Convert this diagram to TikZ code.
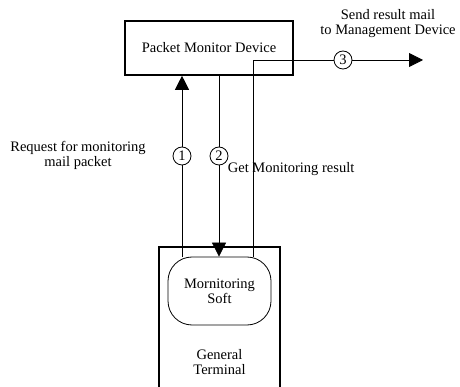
\documentclass[tikz,border=0pt]{standalone}
\usepackage{fontspec}
\setmainfont{Liberation Serif}
\usetikzlibrary{arrows.meta}
\usetikzlibrary{positioning}

\begin{document}
\begin{tikzpicture}[x=1pt,y=-1pt,
    >={Triangle[width=14pt,length=14pt]},
    every node/.style = {font=\fontsize{14.5}{15}\selectfont},
    device/.style = {rectangle, draw=black, line width=1.6pt,
                     minimum width=168pt, minimum height=54pt},
    terminal/.style = {rectangle, draw=black, line width=1.6pt,
                       minimum width=121pt, minimum height=160pt},
    soft/.style = {rectangle, rounded corners=24pt, draw=black, line width=0.8pt,
                   minimum width=103pt, minimum height=68pt, align=center},
    num/.style = {circle, draw=black, line width=0.8pt, fill=white,
                  minimum size=18pt, inner sep=0pt},
    plain/.style = {inner sep=0pt, align=center},
    flow/.style = {line width=0.8pt}]
  \useasboundingbox (0,0) rectangle (460,387);
  \clip (0,0) rectangle (460,387);

  \node (pmd) [device] at (209,48) {Packet Monitor Device};
  \node (term) [terminal, anchor=north] at (219.5,246) {};
  \node (soft) [soft] at (219.5,291) {Mornitoring\\Soft};
  \node (gt) [plain, below=24pt of soft] {General\\Terminal};

  \node (c1) [num] at (182,156) {1};
  \node (c2) [num] at (219,156) {2};
  \node (c3) [num] at (343,60) {3};
  \coordinate (turn) at (253,60);
  \coordinate (mgmt) at (423,60);

  % 1: request
  \draw[flow] (soft.north -| c1) -- (c1.south);
  \draw[flow,->] (c1.north) -- (c1 |- pmd.south);
  % 2: result
  \draw[flow] (pmd.south -| c2) -- (c2.north);
  \draw[flow,->] (c2.south) -- (c2 |- soft.north);
  % 3: mail out
  \draw[flow] (turn |- soft.north) -- (turn) -- (c3.west);
  \draw[flow,->] (c3.east) -- (mgmt);

  \node (req) [plain] at (78,155) {Request for monitoring\\mail packet};
  \node (get) [plain, anchor=north west, xshift=2pt] at (c2.south east) {Get Monitoring result};
  \node (send) [plain] at (388,24) {Send result mail\\to Management Device};
\end{tikzpicture}
\end{document}
